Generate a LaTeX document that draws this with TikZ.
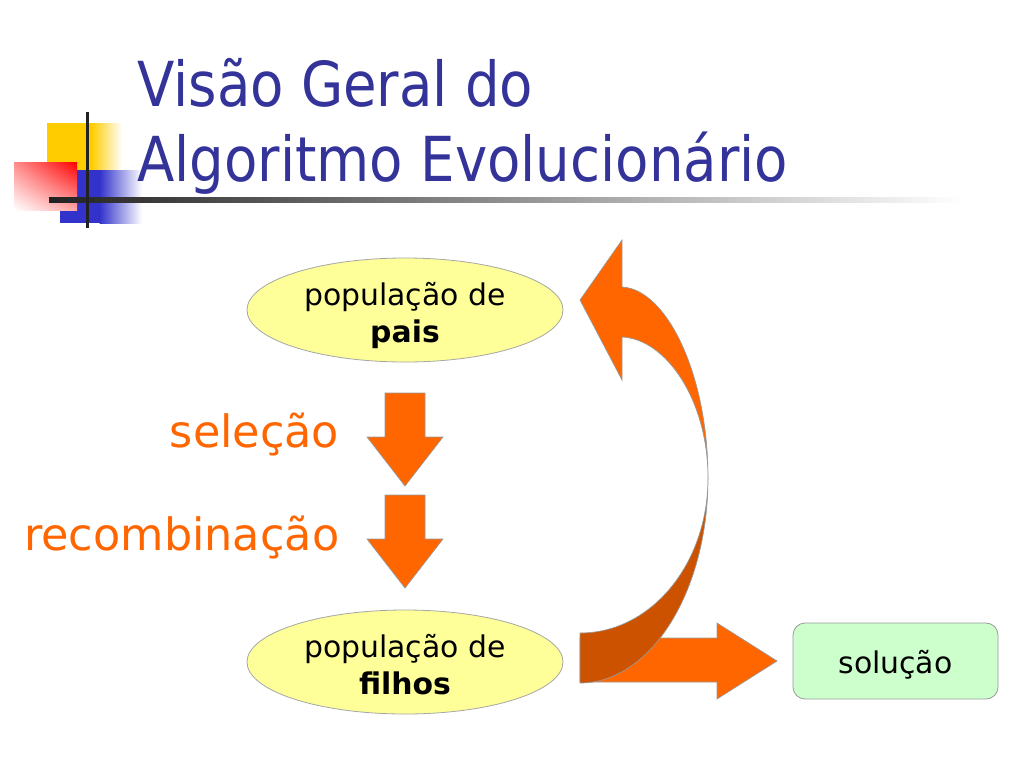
\documentclass[tikz,border=0pt]{standalone}
\usepackage{fontspec}
\setmainfont{DejaVu Sans}
\newfontfamily\titlefont{DejaVu Sans}[FakeStretch=0.88]
\usetikzlibrary{shapes.geometric,shadings}
\definecolor{titleblue}{HTML}{333399}
\definecolor{arrorange}{HTML}{FF6600}
\definecolor{arrdark}{HTML}{CC5200}
\definecolor{ellfill}{HTML}{FFFF99}
\definecolor{boxfill}{HTML}{CCFFCC}
\definecolor{logoyellow}{HTML}{FFCC00}
\definecolor{logoblue}{HTML}{3333CC}
\definecolor{logored}{HTML}{FF0000}
\definecolor{linedark}{HTML}{222222}
\begin{document}
\begin{tikzpicture}[x=0.75pt,y=-0.75pt,
  titletext/.style={font=\titlefont\fontsize{46.5}{56}\selectfont, text=titleblue, inner sep=0pt, anchor=base west},
  ell/.style={ellipse, fill=ellfill, draw=black!35, line width=0.6pt, minimum width=237pt, minimum height=78pt, inner sep=0pt, align=center, text height=48pt, text depth=0pt, font=\fontsize{22.4}{27.75}\selectfont},
  oplabel/.style={text=arrorange, font=\fontsize{33.4}{40}\selectfont, inner sep=0pt, anchor=base east},
  blockarrow/.style={fill=arrorange, draw=black!40, line width=0.5pt},
  darkarrow/.style={fill=arrdark, draw=black!40, line width=0.5pt},
  solbox/.style={rectangle, rounded corners=9pt, fill=boxfill, draw=black!40, line width=0.6pt, minimum width=153.75pt, minimum height=57pt, inner sep=0pt, text height=18pt, text depth=0pt, font=\fontsize{22.4}{27.75}\selectfont}
]
\useasboundingbox (0,0) rectangle (1024,768);
\fill[white] (0,0) rectangle (1024,768);

% logo
\fill[logoyellow] (47,123) rectangle (92,190);
\shade[left color=logoyellow, right color=white] (91.5,123) rectangle (122,190);
\fill[logoblue] (60,170) rectangle (100,223);
\shade[left color=logoblue, right color=white] (99.5,170) rectangle (142,223);
\shade[upper right=logored, upper left=logored!45!white, lower left=white, lower right=logored!35!white] (14,162) rectangle (77,210);
\shade[left color=linedark, right color=white] (49,197.5) rectangle (965,202.5);
\fill[linedark] (85.5,112) rectangle (88.5,228);

% title
\node[titletext] (t1) at (137,106) {Visão Geral do};
\node[titletext] (t2) at (137,181) {Algoritmo Evolucionário};

% ellipses
\node[ell] (pais) at (405,310) {população de\\\textbf{pais}};
\node[ell] (filhos) at (405,662) {população de\\\textbf{filhos}};

% solution
\node[solbox] (sol) at (895.5,661) {solução};

% labels
\node[oplabel] (sel) at (339.5,447) {seleção};
\node[oplabel] (rec) at (339.5,550) {recombinação};

% down arrows
\draw[blockarrow] (385,393) -- (425,393) -- (425,437) -- (443,437) -- (405,486) -- (367,437) -- (385,437) -- cycle;
\draw[blockarrow] (385,495) -- (425,495) -- (425,539) -- (443,539) -- (405,588) -- (367,539) -- (385,539) -- cycle;

% straight arrow to solution
\draw[blockarrow] (580,638) -- (717,638) -- (717,623) -- (777,661) -- (717,699) -- (717,682) -- (580,682) -- cycle;

% curved arrow (upper bright part)
\draw[blockarrow] (580,300) -- (622,240) -- (622,287)
  .. controls (666,289) and (708,373) .. (708,478)
  .. controls (708,400) and (666,339) .. (622,337)
  -- (622,380) -- cycle;
% curved arrow (lower dark part)
\draw[darkarrow] (708,478) .. controls (708,591) and (651,683) .. (580,683)
  -- (580,633) .. controls (651,633) and (708,564) .. (708,478) -- cycle;
\end{tikzpicture}
\end{document}
